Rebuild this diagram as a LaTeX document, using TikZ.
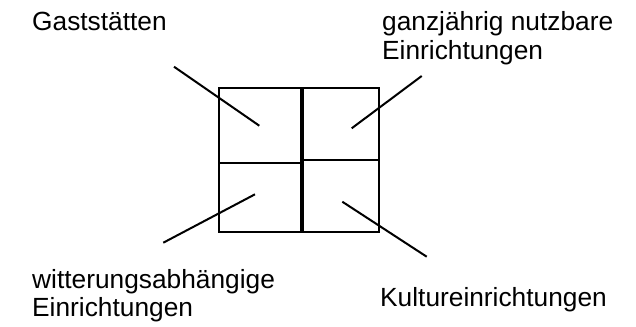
\documentclass[tikz,border=0pt]{standalone}
\usepackage{fontspec}
\setmainfont{Liberation Sans}
\begin{document}
\begin{tikzpicture}[x=1bp,y=-1bp,
  cell/.style={draw=black,line width=2bp},
  lbl/.style={inner sep=0pt,anchor=base west,align=left,font=\fontsize{26.3bp}{28.5bp}\selectfont},
  conn/.style={draw=black,line width=2bp}]
\useasboundingbox[fill=white] (0,0) rectangle (636,326);
% cells
\draw[cell] (219.3,88.3) rectangle (300.6,162.5);
\draw[cell] (302.6,88.3) rectangle (379.3,160.2);
\draw[cell] (219.3,162.5) rectangle (300.6,232);
\draw[cell] (302.6,160.2) rectangle (379.3,232);
% labels (base = last line)
\node[lbl] (gast) at (32,30.5) {Gaststätten};
\node[lbl] (ganz) at (382,59) {ganzjährig nutzbare\\Einrichtungen};
\node[lbl] (witt) at (32,316.5) {witterungsabhängige\\Einrichtungen};
\node[lbl] (kult) at (380,306) {Kultureinrichtungen};
% connector ends
\coordinate (a1) at (174,66.7);
\coordinate (a2) at (259.3,125.7);
\coordinate (b1) at (421.7,76);
\coordinate (b2) at (351.7,128.3);
\coordinate (c1) at (163.3,242.7);
\coordinate (c2) at (255,194.3);
\coordinate (d1) at (426.7,256.7);
\coordinate (d2) at (342.3,201.7);
\draw[conn] (a1) -- (a2);
\draw[conn] (b1) -- (b2);
\draw[conn] (c1) -- (c2);
\draw[conn] (d1) -- (d2);
\end{tikzpicture}
\end{document}
